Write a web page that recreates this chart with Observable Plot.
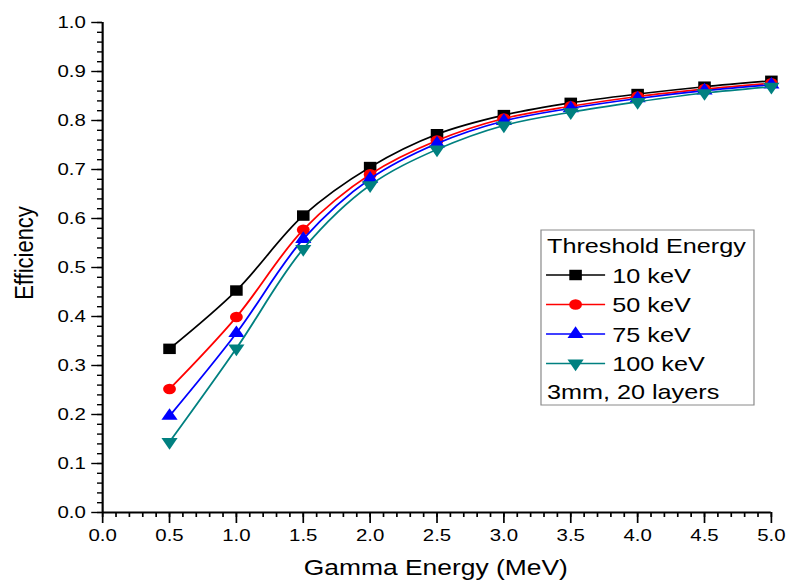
<!DOCTYPE html>
<html><head><meta charset="utf-8">
<script src="https://cdn.jsdelivr.net/npm/d3@7"></script>
<script src="https://cdn.jsdelivr.net/npm/@observablehq/plot@0.6"></script>
<style>
html,body{margin:0;padding:0;background:#fff;overflow:hidden}
#chart{width:790px;height:584px;overflow:hidden}
#chart svg{transform:scaleX(1.2006);transform-origin:0 0;display:block;background:#fff}
</style></head><body><div id="chart"></div>
<script>
// ---- data ----
const gammaEnergy = [0.5, 1.0, 1.5, 2.0, 2.5, 3.0, 3.5, 4.0, 4.5, 5.0];
const thresholds = ["10 keV", "50 keV", "75 keV", "100 keV"];
const eff10  = [0.334, 0.453, 0.606, 0.705, 0.772, 0.811, 0.836, 0.854, 0.869, 0.881];
const eff50  = [0.252, 0.399, 0.577, 0.690, 0.759, 0.804, 0.829, 0.849, 0.864, 0.876];
const eff75  = [0.197, 0.366, 0.558, 0.681, 0.753, 0.799, 0.825, 0.845, 0.861, 0.873];
const eff100 = [0.144, 0.335, 0.538, 0.668, 0.741, 0.790, 0.817, 0.838, 0.856, 0.869];
const xMajorTicks = [0.0, 0.5, 1.0, 1.5, 2.0, 2.5, 3.0, 3.5, 4.0, 4.5, 5.0];
const yMajorTicks = [0.0, 0.1, 0.2, 0.3, 0.4, 0.5, 0.6, 0.7, 0.8, 0.9, 1.0];
const xMinorTicks = d3.range(0, 5.0001, 0.1);
const yMinorTicks = d3.range(0, 1.0001, 0.02);
const xLabel = "Gamma Energy (MeV)";
const yLabel = "Efficiency";
const legendTitle = "Threshold Energy";
const legendNote = "3mm, 20 layers";

// ---- styling ----
const S = 1.2006;            // horizontal stretch of the reference
const W = 658, H = 584;
const colors = ["#000000", "#ff0000", "#0000ff", "#008080"];
const triangleDown = {
  draw(context, size) {
    const sqrt3 = Math.sqrt(3);
    const y = -Math.sqrt(size / (sqrt3 * 3));
    context.moveTo(0, -y * 2);
    context.lineTo(-sqrt3 * y, y);
    context.lineTo(sqrt3 * y, y);
    context.closePath();
  }
};
const symbols = [d3.symbolSquare, d3.symbolCircle, d3.symbolTriangle, triangleDown];
const radii = [5.9, 5.35, 5.0, 5.0];
const seriesValues = [eff10, eff50, eff75, eff100];

const seriesData = seriesValues.map((vals, k) =>
  gammaEnergy.map((g, i) => ({energy: g, eff: vals[i], threshold: thresholds[k]})));

const marks = [
  Plot.axisX(xMinorTicks, {tickSize: 5, tickFormat: () => "", label: null, strokeWidth: 1.4}),
  Plot.axisX(xMajorTicks, {tickSize: 11, tickPadding: 5, tickFormat: d3.format(".1f"), fontSize: 17, label: null, strokeWidth: 1.4}),
  Plot.axisY(yMinorTicks, {tickSize: 4.2, tickFormat: () => "", label: null, strokeWidth: 1.4}),
  Plot.axisY(yMajorTicks, {tickSize: 9, tickPadding: 5, tickFormat: d3.format(".1f"), fontSize: 17, label: null, strokeWidth: 1.4}),
  Plot.ruleX([0], {strokeWidth: 1.8}),
  Plot.ruleY([0], {strokeWidth: 2})
];
seriesData.forEach((d, k) => {
  marks.push(Plot.line(d, {x: "energy", y: "eff", stroke: colors[k], strokeWidth: 1.6, curve: "catmull-rom"}));
  marks.push(Plot.dot(d, {x: "energy", y: "eff", fill: colors[k], symbol: symbols[k], r: radii[k]}));
});

const svg = Plot.plot({
  width: W, height: H,
  marginLeft: 85, marginRight: 16, marginTop: 22, marginBottom: 72,
  style: {fontFamily: "'Liberation Sans', Arial, sans-serif", color: "#000", background: "#fff"},
  x: {domain: [0, 5], label: null},
  y: {domain: [0, 1], label: null},
  marks
});

const sel = d3.select(svg);
const font = "'Liberation Sans', Arial, sans-serif";
// axis titles
sel.append("text").attr("x", 363).attr("y", 575).attr("text-anchor", "middle")
  .attr("font-family", font).attr("font-size", 22).attr("fill", "#000").text(xLabel);
sel.append("text").attr("transform", "translate(27.5,253) rotate(-90)").attr("text-anchor", "middle")
  .attr("font-family", font).attr("font-size", 22).attr("fill", "#000").text(yLabel);

// legend
const lg = sel.append("g").attr("font-family", font).attr("font-size", 21).attr("fill", "#000")
  .attr("text-anchor", "start");
lg.append("rect").attr("x", 450.6).attr("y", 230).attr("width", 177.4).attr("height", 175)
  .attr("fill", "#fff").attr("stroke", "#8a8a8a").attr("stroke-width", 1);
lg.append("text").attr("x", 455.6).attr("y", 253.3).attr("text-anchor", "start").text(legendTitle);
const rowY = [275, 304.5, 334, 363.5];
thresholds.forEach((t, k) => {
  lg.append("line").attr("x1", 454.8).attr("x2", 504).attr("y1", rowY[k]).attr("y2", rowY[k])
    .attr("stroke", colors[k]).attr("stroke-width", 1.6);
  lg.append("path").attr("transform", `translate(479.4,${rowY[k]})`)
    .attr("d", d3.symbol(symbols[k], radii[k] * radii[k] * Math.PI)()).attr("fill", colors[k]);
  lg.append("text").attr("x", 510).attr("y", rowY[k] + 8).attr("text-anchor", "start").text(t);
});
lg.append("text").attr("x", 455.6).attr("y", 399).attr("text-anchor", "start").text(legendNote);

document.getElementById("chart").appendChild(svg);
</script>
</body></html>
